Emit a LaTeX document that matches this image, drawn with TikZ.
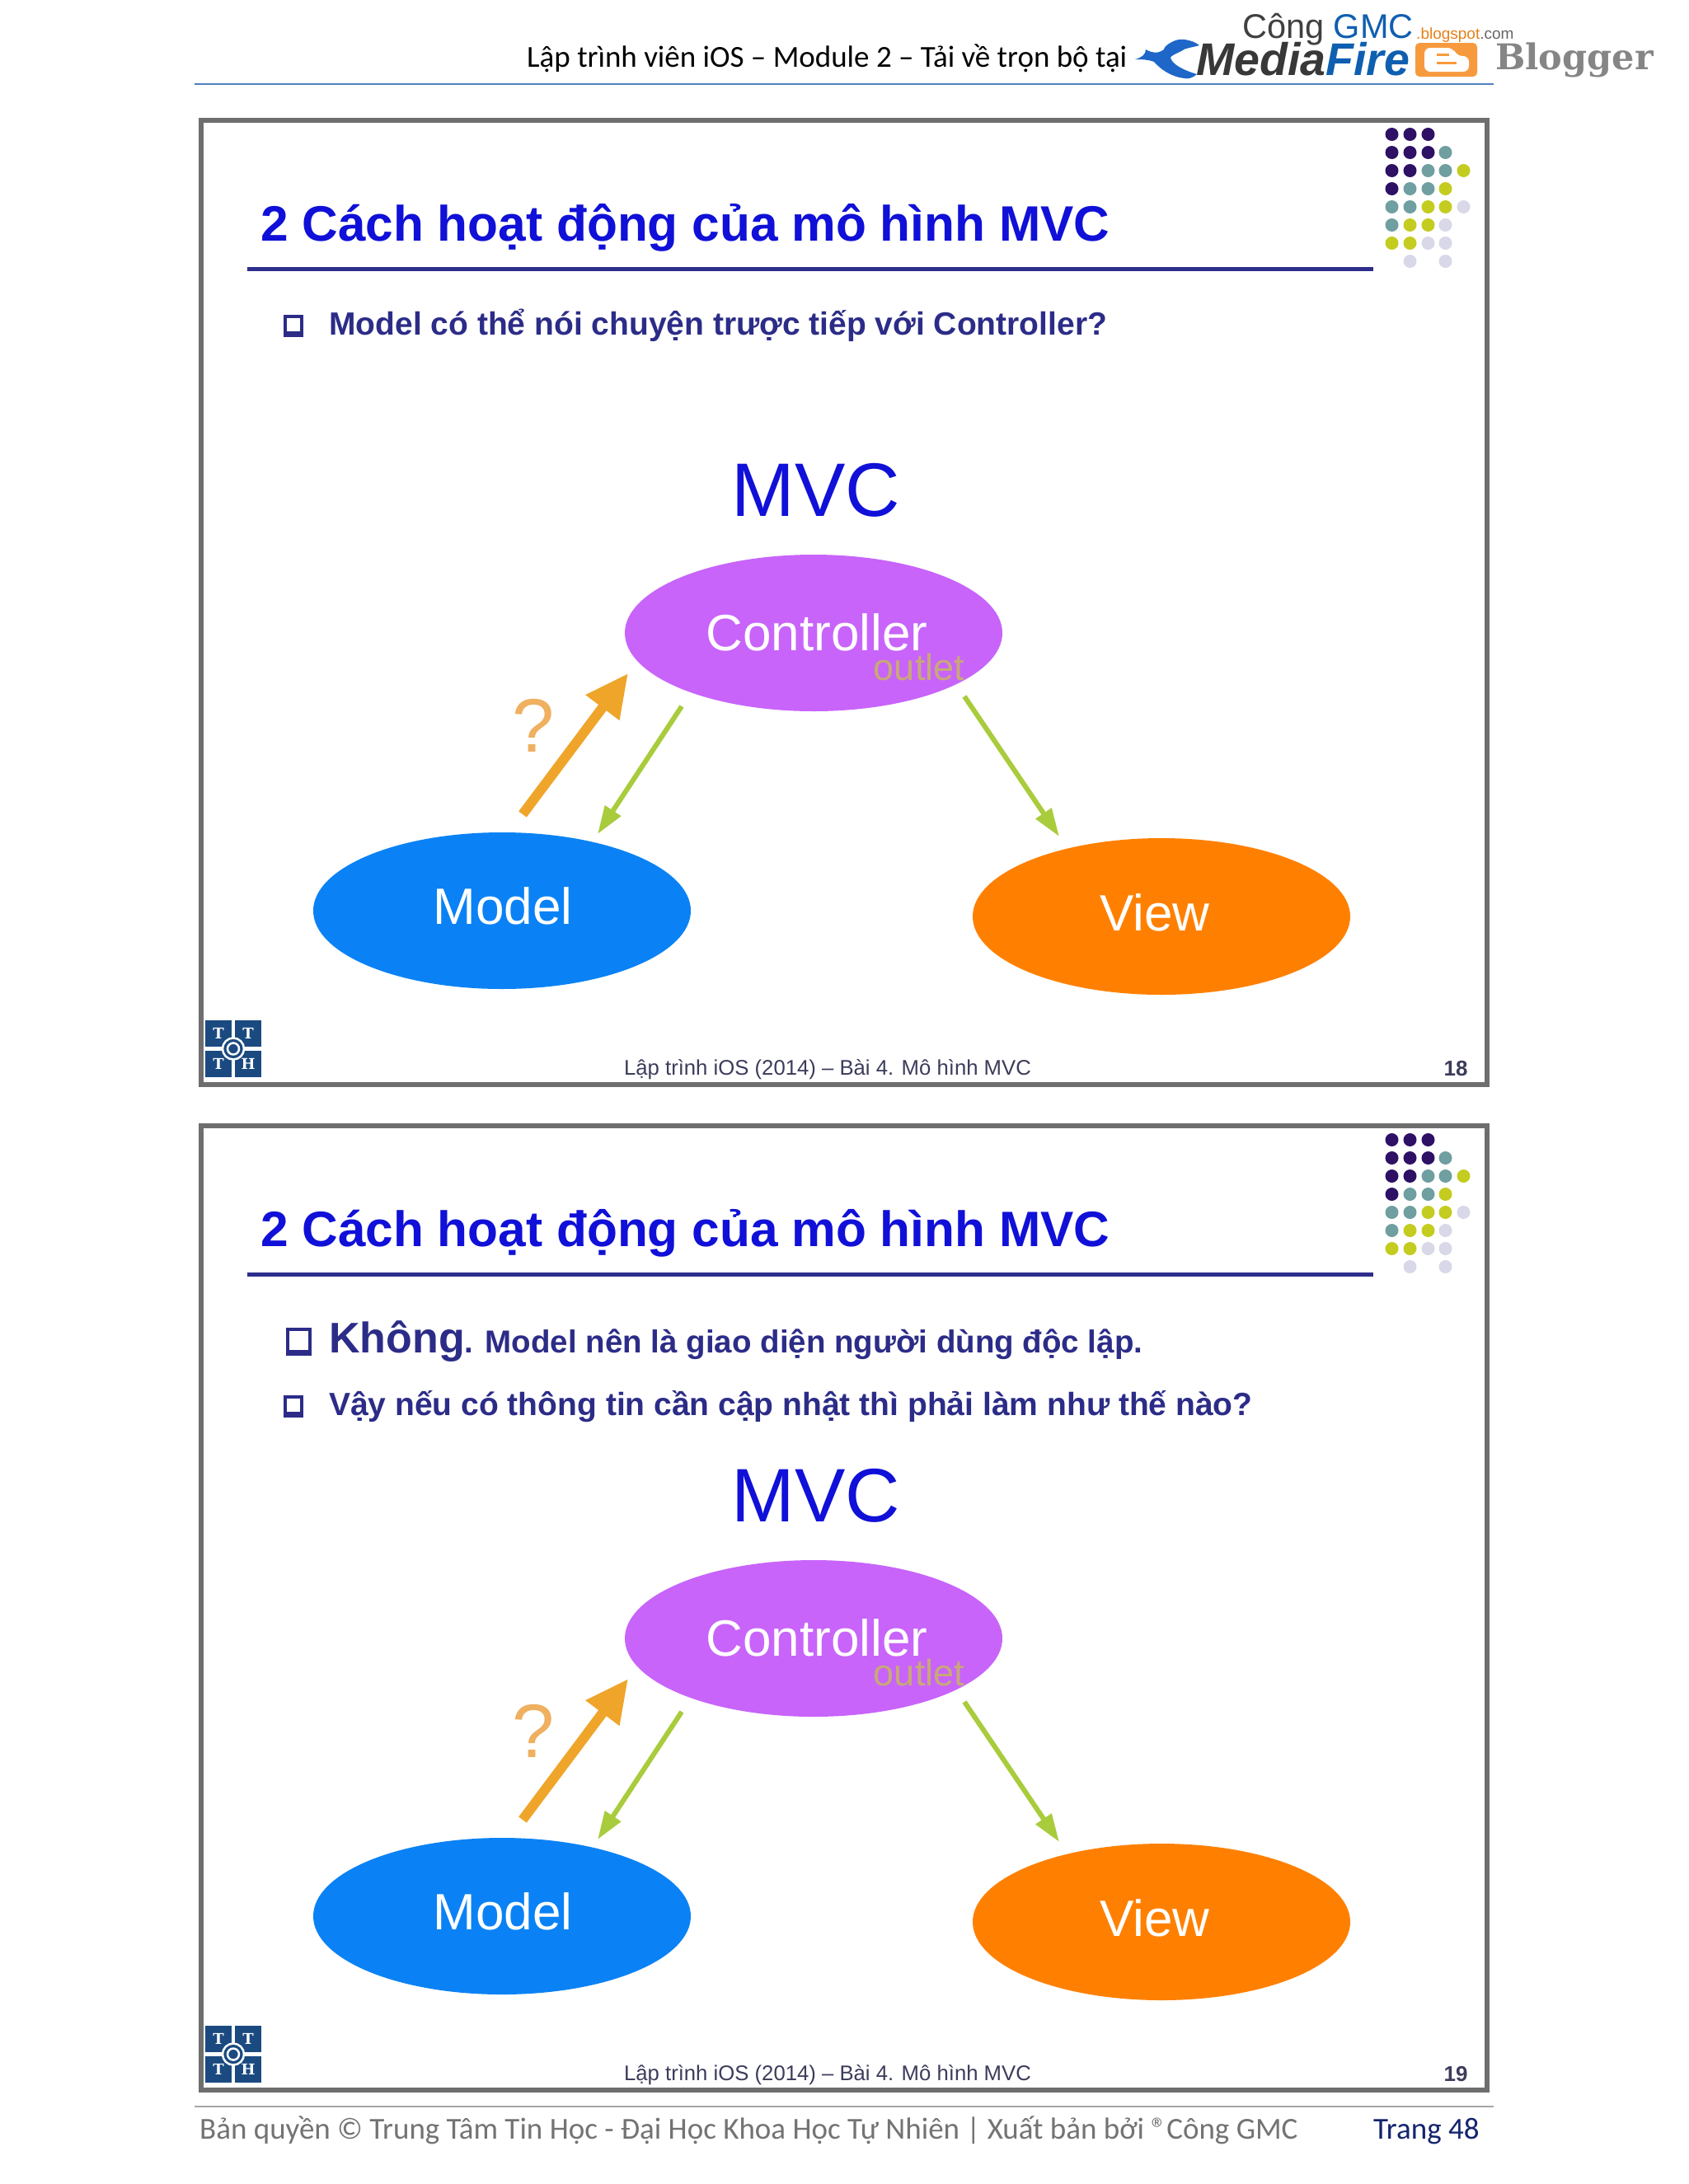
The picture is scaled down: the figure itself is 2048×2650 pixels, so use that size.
\documentclass[tikz,border=0pt]{standalone}
\usepackage{fontspec}
\setmainfont{Liberation Sans}
\newfontfamily\carlito{Carlito}
\newfontfamily\slabfont{DejaVu Serif}
\definecolor{framegray}{HTML}{6E6E6E}
\definecolor{titleblue}{HTML}{1010D8}
\definecolor{rulenavy}{HTML}{2E2E8C}
\definecolor{bulletnavy}{HTML}{2C2C88}
\definecolor{dotdark}{HTML}{2E1065}
\definecolor{dotteal}{HTML}{6F9FA0}
\definecolor{dotyellow}{HTML}{C4CC20}
\definecolor{dotpale}{HTML}{D8D8E8}
\definecolor{ctrlpurple}{HTML}{C864FA}
\definecolor{modelblue}{HTML}{0A82F5}
\definecolor{vieworange}{HTML}{FF8000}
\definecolor{askorange}{HTML}{EFA52A}
\definecolor{asklight}{HTML}{EFB060}
\definecolor{sendgreen}{HTML}{A8CC3C}
\definecolor{outlettan}{HTML}{C8A878}
\definecolor{logonavy}{HTML}{1A4A80}
\definecolor{firerblue}{HTML}{0F5FB0}
\definecolor{flameblue}{HTML}{1E66C8}
\definecolor{bloggerorange}{HTML}{F79A3E}
\definecolor{headline}{HTML}{4F81BD}
\definecolor{footerslate}{HTML}{3C3C5C}
\definecolor{pagenavy}{HTML}{14246E}
\usetikzlibrary{arrows.meta}
\tikzset{
  mvcnode/.style={ellipse,minimum width=458pt,minimum height=190pt,inner sep=0pt},
  mvclabel/.style={text=white,font=\fontsize{62}{62}\selectfont,inner sep=0pt},
  askarrow/.style={draw=askorange,line width=12pt,-{Triangle[length=52pt,width=48pt]}},
  sendarrow/.style={draw=sendgreen,line width=6pt,-{Triangle[length=34pt,width=22pt]}},
  slideframe/.style={draw=framegray,line width=6pt,fill=white},
  logobox/.style={fill=logonavy,minimum size=32pt,inner sep=0pt,text=white,font=\slabfont\bfseries\fontsize{18}{18}\selectfont},
  titletext/.style={anchor=base west,inner sep=0pt,text=titleblue,font=\bfseries\fontsize{60.4}{60}\selectfont},
  itemtext/.style={anchor=base west,inner sep=0pt,text=bulletnavy,font=\bfseries\fontsize{39}{39}\selectfont},
  bulletbox/.style={draw=bulletnavy,line width=4pt,minimum size=20pt,inner sep=0pt},
  footertext/.style={inner sep=0pt,text=footerslate,font=\fontsize{25.7}{26}\selectfont},
}
\usetikzlibrary{shapes.geometric}
\begin{document}
\begin{tikzpicture}[x=1pt,y=-1pt]
  \useasboundingbox (0,0) rectangle (2048,2650);
  \fill[white] (0,0) rectangle (2048,2650);
  % page header
  \node[anchor=base west,inner sep=0pt,font=\carlito\fontsize{37}{37}\selectfont] (head) at (639,81) {Lập trình viên iOS – Module 2 – Tải về trọn bộ tại};
  \draw[headline,line width=2pt] (236,101.5) -- (1812,101.5);
  \node[anchor=base west,inner sep=0pt,font=\fontsize{41.5}{41}\selectfont] (cong) at (1507,46) {\textcolor{black!75}{Công} \textcolor{firerblue}{GMC}};
  \node[anchor=base west,inner sep=0pt,font=\fontsize{19}{19}\selectfont] (blogspot) at (1718,47) {\textcolor{orange!80!gray}{.blogspot}\textcolor{black!60}{.com}};
  \fill[flameblue] (1377,72) .. controls (1385,70) and (1390,66) .. (1390,60) .. controls (1397,64) and (1404,66) .. (1412,60) .. controls (1412,56) and (1425,46) .. (1437,48) .. controls (1444,49) and (1450,51) .. (1455,55) .. controls (1445,58) and (1438,58) .. (1433,62) .. controls (1425,66) and (1420,68) .. (1420,70) .. controls (1422,78) and (1435,85) .. (1452,90) .. controls (1447,95) and (1440,96) .. (1437,95) .. controls (1420,93) and (1408,84) .. (1400,75) .. controls (1392,72) and (1385,72) .. (1377,72);
  \node[anchor=base west,inner sep=0pt,font=\bfseries\itshape\fontsize{55.5}{55}\selectfont] (fire) at (1451,91) {\textcolor{black!78}{Media}\textcolor{firerblue}{Fire}};
  \fill[bloggerorange,rounded corners=5pt] (1717,52) rectangle (1792,93);
  \fill[white,rounded corners=7pt] (1728,58) -- (1763,58) -- (1767,68) -- (1782,68) -- (1782,87) -- (1728,87) -- cycle;
  \draw[bloggerorange,line width=3pt] (1743,66) -- (1758,66) (1743,76) -- (1767,76);
  \node[inner sep=0pt,text=black!48,font=\slabfont\bfseries\fontsize{43}{43}\selectfont] (blogger) at (1910,73) {Blogger};
  % first slide
  \begin{scope}
    \draw[slideframe] (244,146) rectangle (1804,1316);
    \node[titletext] (title1) at (316,292) {2 Cách hoạt động của mô hình MVC};
    \draw[rulenavy,line width=5pt] (300,326) -- (1666,326);
    \node[bulletbox] (box1) at (356,394) {};
    \draw[bulletnavy,line width=6pt] (box1.south west) -- (box1.south east);
    \node[itemtext] (item1) at (399,406) {Model có thể nói chuyện trược tiếp với Controller?};
    \node[text=titleblue,inner sep=0pt,font=\fontsize{92}{92}\selectfont] (mvc1) at (990,595) {MVC};
    \node[mvcnode,fill=ctrlpurple] (ctrl1) at (987,768) {};
    \node[mvclabel] (ctrltext1) at (991,767) {Controller};
    \node[inner sep=0pt,text=outlettan,font=\fontsize{45}{45}\selectfont] (outlet1) at (1115,809) {outlet};
    \node[mvcnode,fill=modelblue] (model1) at (609,1105) {};
    \node[mvclabel] (modeltext1) at (610,1099) {Model};
    \node[mvcnode,fill=vieworange] (view1) at (1409,1112) {};
    \node[mvclabel] (viewtext1) at (1401,1107) {View};
    \coordinate (asktail1) at (634,988);
    \coordinate (asktip1) at (762,817);
    \coordinate (gltail1) at (827,857);
    \coordinate (gltip1) at (725,1012);
    \coordinate (grtail1) at (1170,845);
    \coordinate (grtip1) at (1285,1015);
    \draw[askarrow] (asktail1) -- (asktip1);
    \draw[sendarrow] (gltail1) -- (gltip1);
    \draw[sendarrow] (grtail1) -- (grtip1);
    \node[inner sep=0pt,text=asklight,font=\fontsize{92}{92}\selectfont] (ask1) at (647,880) {?};
    \fill[dotdark,shift={(1.5,0)}] (1687,163) circle (8pt) (1709,163) circle (8pt) (1731,163) circle (8pt) (1687,185) circle (8pt) (1709,185) circle (8pt) (1731,185) circle (8pt) (1687,207) circle (8pt) (1709,207) circle (8pt) (1687,229) circle (8pt);
    \fill[dotteal,shift={(1.5,0)}] (1752,185) circle (8pt) (1731,207) circle (8pt) (1752,207) circle (8pt) (1709,229) circle (8pt) (1731,229) circle (8pt) (1687,251) circle (8pt) (1709,251) circle (8pt) (1687,273) circle (8pt);
    \fill[dotyellow,shift={(1.5,0)}] (1774,207) circle (8pt) (1752,229) circle (8pt) (1731,251) circle (8pt) (1752,251) circle (8pt) (1709,273) circle (8pt) (1731,273) circle (8pt) (1687,295) circle (8pt) (1709,295) circle (8pt);
    \fill[dotpale,shift={(1.5,0)}] (1774,251) circle (8pt) (1752,273) circle (8pt) (1731,295) circle (8pt) (1752,295) circle (8pt) (1709,317) circle (8pt) (1752,317) circle (8pt);
    \node[logobox] (ta1) at (265,1254) {T};
    \node[logobox] (tb1) at (301,1254) {T};
    \node[logobox] (tc1) at (265,1291) {T};
    \node[logobox] (hd1) at (301,1291) {H};
    \draw[white,fill=logonavy,line width=2.5pt] (283,1272.5) circle (13pt) (283,1272.5) circle (7pt);
    \node[footertext] (foot1) at (1004,1298) {Lập trình iOS (2014) – Bài 4. Mô hình MVC};
    \node[footertext,font=\bfseries\fontsize{26}{26}\selectfont] (num1) at (1766,1297) {18};
  \end{scope}
  % second slide
  \begin{scope}[shift={(0,1220)}]
    \draw[slideframe] (244,146) rectangle (1804,1316);
    \node[titletext] (title2) at (316,292) {2 Cách hoạt động của mô hình MVC};
    \draw[rulenavy,line width=5pt] (300,326) -- (1666,326);
    \node[bulletbox,minimum size=27pt] (box2) at (362,406) {};
    \draw[bulletnavy,line width=7pt] (box2.south west) -- (box2.south east);
    \node[itemtext] (item2) at (399,421) {{\fontsize{52}{52}\selectfont Không}{\fontsize{38.5}{39}\selectfont . Model nên là giao diện người dùng độc lập.}};
    \node[bulletbox] (box3) at (356,485) {};
    \draw[bulletnavy,line width=6pt] (box3.south west) -- (box3.south east);
    \node[itemtext] (item3) at (399,497) {Vậy nếu có thông tin cần cập nhật thì phải làm như thế nào?};
    \node[text=titleblue,inner sep=0pt,font=\fontsize{92}{92}\selectfont] (mvc2) at (990,595) {MVC};
    \node[mvcnode,fill=ctrlpurple] (ctrl2) at (987,768) {};
    \node[mvclabel] (ctrltext2) at (991,767) {Controller};
    \node[inner sep=0pt,text=outlettan,font=\fontsize{45}{45}\selectfont] (outlet2) at (1115,809) {outlet};
    \node[mvcnode,fill=modelblue] (model2) at (609,1105) {};
    \node[mvclabel] (modeltext2) at (610,1099) {Model};
    \node[mvcnode,fill=vieworange] (view2) at (1409,1112) {};
    \node[mvclabel] (viewtext2) at (1401,1107) {View};
    \coordinate (asktail2) at (634,988);
    \coordinate (asktip2) at (762,817);
    \coordinate (gltail2) at (827,857);
    \coordinate (gltip2) at (725,1012);
    \coordinate (grtail2) at (1170,845);
    \coordinate (grtip2) at (1285,1015);
    \draw[askarrow] (asktail2) -- (asktip2);
    \draw[sendarrow] (gltail2) -- (gltip2);
    \draw[sendarrow] (grtail2) -- (grtip2);
    \node[inner sep=0pt,text=asklight,font=\fontsize{92}{92}\selectfont] (ask2) at (647,880) {?};
    \fill[dotdark,shift={(1.5,0)}] (1687,163) circle (8pt) (1709,163) circle (8pt) (1731,163) circle (8pt) (1687,185) circle (8pt) (1709,185) circle (8pt) (1731,185) circle (8pt) (1687,207) circle (8pt) (1709,207) circle (8pt) (1687,229) circle (8pt);
    \fill[dotteal,shift={(1.5,0)}] (1752,185) circle (8pt) (1731,207) circle (8pt) (1752,207) circle (8pt) (1709,229) circle (8pt) (1731,229) circle (8pt) (1687,251) circle (8pt) (1709,251) circle (8pt) (1687,273) circle (8pt);
    \fill[dotyellow,shift={(1.5,0)}] (1774,207) circle (8pt) (1752,229) circle (8pt) (1731,251) circle (8pt) (1752,251) circle (8pt) (1709,273) circle (8pt) (1731,273) circle (8pt) (1687,295) circle (8pt) (1709,295) circle (8pt);
    \fill[dotpale,shift={(1.5,0)}] (1774,251) circle (8pt) (1752,273) circle (8pt) (1731,295) circle (8pt) (1752,295) circle (8pt) (1709,317) circle (8pt) (1752,317) circle (8pt);
    \node[logobox] (ta2) at (265,1254) {T};
    \node[logobox] (tb2) at (301,1254) {T};
    \node[logobox] (tc2) at (265,1291) {T};
    \node[logobox] (hd2) at (301,1291) {H};
    \draw[white,fill=logonavy,line width=2.5pt] (283,1272.5) circle (13pt) (283,1272.5) circle (7pt);
    \node[footertext] (foot2) at (1004,1298) {Lập trình iOS (2014) – Bài 4. Mô hình MVC};
    \node[footertext,font=\bfseries\fontsize{26}{26}\selectfont] (num2) at (1766,1297) {19};
  \end{scope}
  % page footer
  \draw[black!35,line width=2pt] (236,2556) -- (1812,2556);
  \node[anchor=base west,inner sep=0pt,text=black!55,font=\carlito\fontsize{37}{37}\selectfont] (copy) at (242,2595) {Bản quyền © Trung Tâm Tin Học - Đại Học Khoa Học Tự Nhiên | Xuất bản bởi ®Công GMC};
  \node[anchor=base west,inner sep=0pt,text=pagenavy,font=\carlito\fontsize{37}{37}\selectfont] (page) at (1666,2595) {Trang 48};
\end{tikzpicture}
\end{document}
